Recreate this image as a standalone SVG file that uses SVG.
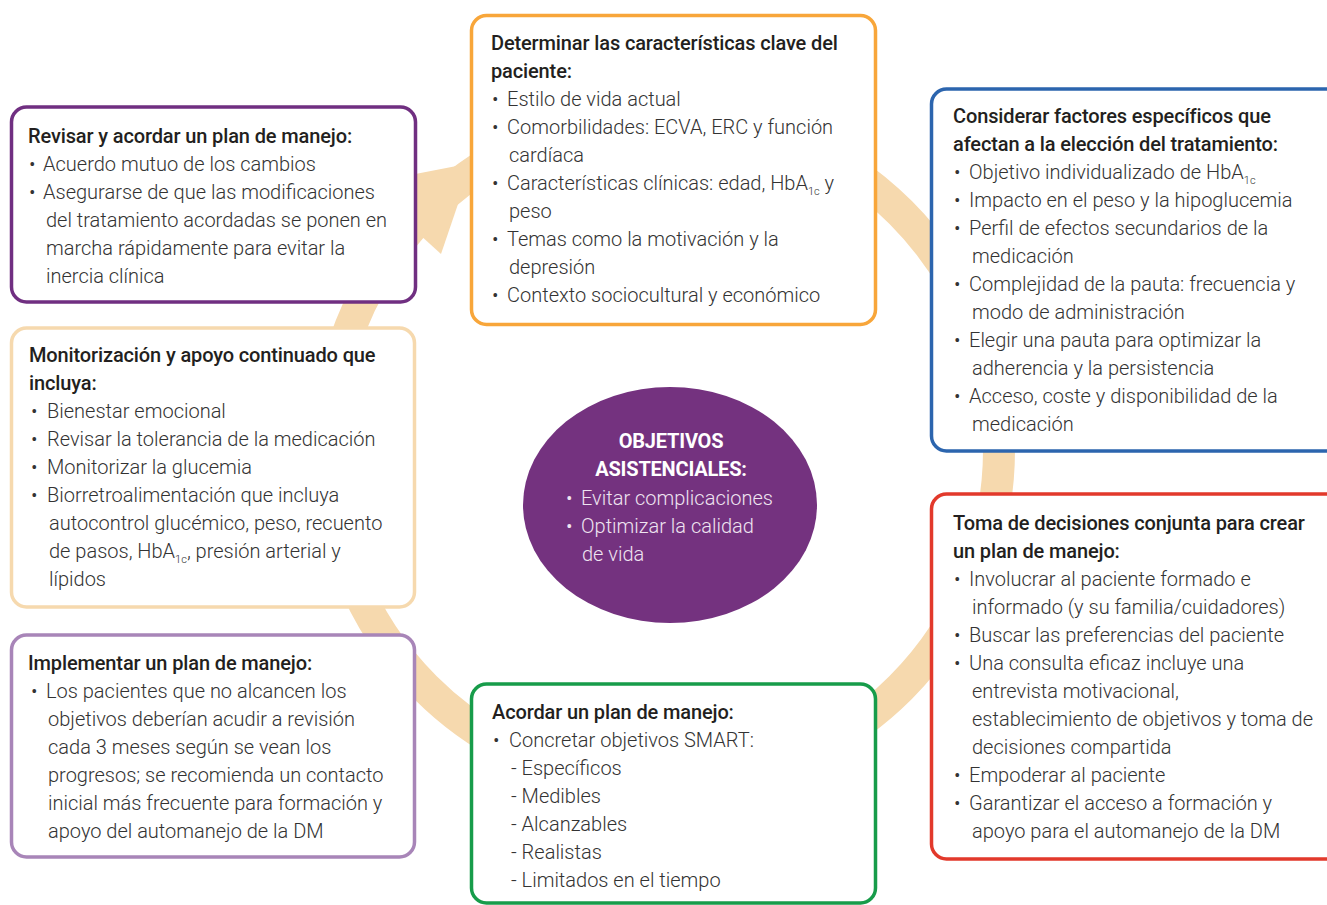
<svg xmlns="http://www.w3.org/2000/svg" width="1327" height="905" viewBox="0 0 1327 905">
<style>
.box{fill:#fff;stroke-width:3.5}
.t{font-family:Roboto,"Liberation Sans",sans-serif;font-weight:500;font-size:20px;fill:#231f20;letter-spacing:-0.13px}
.b{font-family:Roboto,"Liberation Sans",sans-serif;font-weight:300;font-size:20px;fill:#333}
.sub{font-size:11px}
.et{font-family:Roboto,"Liberation Sans",sans-serif;font-weight:700;font-size:20px;fill:#fff;letter-spacing:-0.2px}
.eb{font-family:Roboto,"Liberation Sans",sans-serif;font-weight:300;font-size:20px;fill:#efe4f1}
</style>
<rect width="1327" height="905" fill="#fff"/>
<g id="connectors">
<circle cx="663" cy="450" r="336" fill="none" stroke="#f6d9ae" stroke-width="32"/>
<polygon points="472,163 441,254 364,184" fill="#f6d9ae"/>
</g>
<g id="node-revisar">
<rect class="box" x="11.5" y="107" width="404" height="195" rx="15" stroke="#702f81"/>
<text class="t" x="28" y="143">Revisar y acordar un plan de manejo:</text>
<text class="b" x="29" y="171">•</text><text class="b" x="43" y="171">Acuerdo mutuo de los cambios</text>
<text class="b" x="29" y="199">•</text><text class="b" x="43" y="199">Asegurarse de que las modificaciones</text>
<text class="b" x="46" y="227">del tratamiento acordadas se ponen en</text>
<text class="b" x="46" y="255">marcha rápidamente para evitar la</text>
<text class="b" x="46" y="283">inercia clínica</text>
</g>
<g id="node-determinar">
<rect class="box" x="471.5" y="15.5" width="404" height="309" rx="15" stroke="#f8a63a"/>
<text class="t" x="491" y="50">Determinar las características clave del</text>
<text class="t" x="491" y="78">paciente:</text>
<text class="b" x="492" y="106">•</text><text class="b" x="507" y="106">Estilo de vida actual</text>
<text class="b" x="492" y="134">•</text><text class="b" x="507" y="134">Comorbilidades: ECVA, ERC y función</text>
<text class="b" x="509" y="162">cardíaca</text>
<text class="b" x="492" y="190">•</text><text class="b" x="507" y="190">Características clínicas: edad, HbA<tspan class="sub" dy="5">1c</tspan><tspan dy="-5"> y</tspan></text>
<text class="b" x="509" y="218">peso</text>
<text class="b" x="492" y="246">•</text><text class="b" x="507" y="246">Temas como la motivación y la</text>
<text class="b" x="509" y="274">depresión</text>
<text class="b" x="492" y="302">•</text><text class="b" x="507" y="302">Contexto sociocultural y económico</text>
</g>
<g id="node-considerar">
<rect class="box" x="931.5" y="89" width="420" height="362" rx="15" stroke="#2c65ae"/>
<text class="t" x="953" y="123">Considerar factores específicos que</text>
<text class="t" x="953" y="151">afectan a la elección del tratamiento:</text>
<text class="b" x="954" y="179">•</text><text class="b" x="969" y="179">Objetivo individualizado de HbA<tspan class="sub" dy="5">1c</tspan></text>
<text class="b" x="954" y="207">•</text><text class="b" x="969" y="207">Impacto en el peso y la hipoglucemia</text>
<text class="b" x="954" y="235">•</text><text class="b" x="969" y="235">Perfil de efectos secundarios de la</text>
<text class="b" x="972" y="263">medicación</text>
<text class="b" x="954" y="291">•</text><text class="b" x="969" y="291">Complejidad de la pauta: frecuencia y</text>
<text class="b" x="972" y="319">modo de administración</text>
<text class="b" x="954" y="347">•</text><text class="b" x="969" y="347">Elegir una pauta para optimizar la</text>
<text class="b" x="972" y="375">adherencia y la persistencia</text>
<text class="b" x="954" y="403">•</text><text class="b" x="969" y="403">Acceso, coste y disponibilidad de la</text>
<text class="b" x="972" y="431">medicación</text>
</g>
<g id="node-toma">
<rect class="box" x="931.5" y="494" width="420" height="365" rx="15" stroke="#e2392b"/>
<text class="t" x="953" y="530">Toma de decisiones conjunta para crear</text>
<text class="t" x="953" y="558">un plan de manejo:</text>
<text class="b" x="954" y="586">•</text><text class="b" x="969" y="586">Involucrar al paciente formado e</text>
<text class="b" x="972" y="614">informado (y su familia/cuidadores)</text>
<text class="b" x="954" y="642">•</text><text class="b" x="969" y="642">Buscar las preferencias del paciente</text>
<text class="b" x="954" y="670">•</text><text class="b" x="969" y="670">Una consulta eficaz incluye una</text>
<text class="b" x="972" y="698">entrevista motivacional,</text>
<text class="b" x="972" y="726">establecimiento de objetivos y toma de</text>
<text class="b" x="972" y="754">decisiones compartida</text>
<text class="b" x="954" y="782">•</text><text class="b" x="969" y="782">Empoderar al paciente</text>
<text class="b" x="954" y="810">•</text><text class="b" x="969" y="810">Garantizar el acceso a formación y</text>
<text class="b" x="972" y="838">apoyo para el automanejo de la DM</text>
</g>
<g id="node-acordar">
<rect class="box" x="471.5" y="684" width="404" height="219" rx="15" stroke="#179c4a"/>
<text class="t" x="492" y="719">Acordar un plan de manejo:</text>
<text class="b" x="493" y="747">•</text><text class="b" x="509" y="747">Concretar objetivos SMART:</text>
<text class="b" x="511" y="775">- Específicos</text>
<text class="b" x="511" y="803">- Medibles</text>
<text class="b" x="511" y="831">- Alcanzables</text>
<text class="b" x="511" y="859">- Realistas</text>
<text class="b" x="511" y="887">- Limitados en el tiempo</text>
</g>
<g id="node-implementar">
<rect class="box" x="11.5" y="635" width="403" height="222" rx="15" stroke="#a885b8"/>
<text class="t" x="28" y="670">Implementar un plan de manejo:</text>
<text class="b" x="31" y="698">•</text><text class="b" x="46" y="698">Los pacientes que no alcancen los</text>
<text class="b" x="48" y="726">objetivos deberían acudir a revisión</text>
<text class="b" x="48" y="754">cada 3 meses según se vean los</text>
<text class="b" x="48" y="782">progresos; se recomienda un contacto</text>
<text class="b" x="48" y="810">inicial más frecuente para formación y</text>
<text class="b" x="48" y="838">apoyo del automanejo de la DM</text>
</g>
<g id="node-monitorizacion">
<rect class="box" x="11.5" y="328" width="403" height="279" rx="15" stroke="#f6d9ae"/>
<text class="t" x="29" y="362">Monitorización y apoyo continuado que</text>
<text class="t" x="29" y="390">incluya:</text>
<text class="b" x="31" y="418">•</text><text class="b" x="47" y="418">Bienestar emocional</text>
<text class="b" x="31" y="446">•</text><text class="b" x="47" y="446">Revisar la tolerancia de la medicación</text>
<text class="b" x="31" y="474">•</text><text class="b" x="47" y="474">Monitorizar la glucemia</text>
<text class="b" x="31" y="502">•</text><text class="b" x="47" y="502">Biorretroalimentación que incluya</text>
<text class="b" x="49" y="530">autocontrol glucémico, peso, recuento</text>
<text class="b" x="49" y="558">de pasos, HbA<tspan class="sub" dy="5">1c</tspan><tspan dy="-5">, presión arterial y</tspan></text>
<text class="b" x="49" y="586">lípidos</text>
</g>
<g id="node-objetivos">
<ellipse cx="670" cy="505" rx="147" ry="118" fill="#74327f"/>
<text class="et" x="671" y="448" text-anchor="middle">OBJETIVOS</text>
<text class="et" x="671" y="476" text-anchor="middle">ASISTENCIALES:</text>
<text class="eb" x="566" y="505">•</text><text class="eb" x="581" y="505">Evitar complicaciones</text>
<text class="eb" x="566" y="533">•</text><text class="eb" x="581" y="533">Optimizar la calidad</text>
<text class="eb" x="582" y="561">de vida</text>
</g>
</svg>
